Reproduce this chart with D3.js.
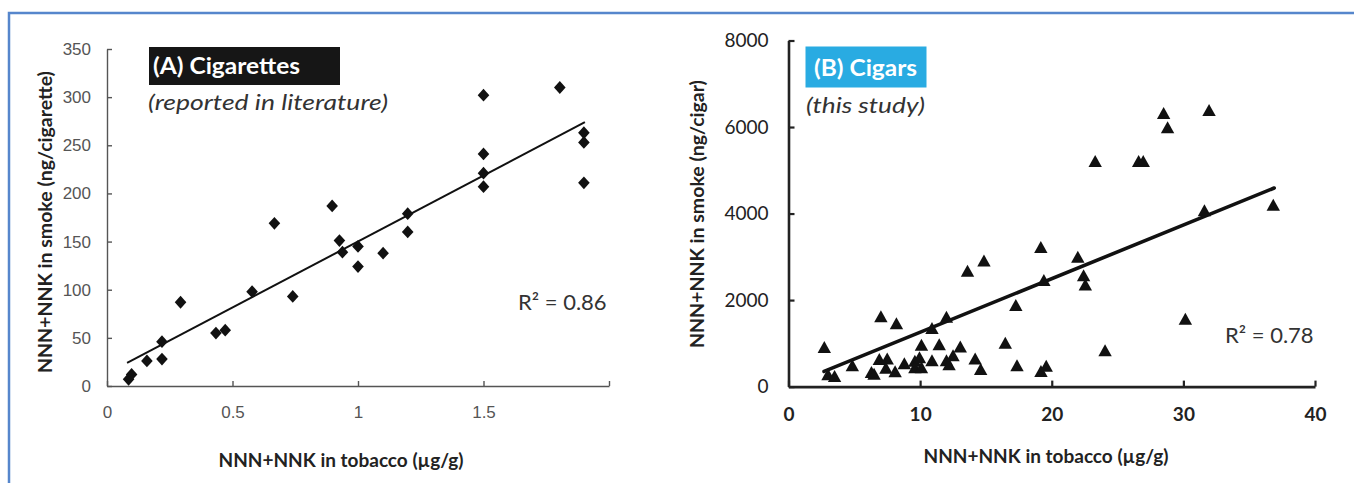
<!DOCTYPE html>
<html>
<head>
<meta charset="utf-8">
<script src="https://cdn.jsdelivr.net/npm/d3@7"></script>
<style>
  body { margin: 0; background: #fff; }
  svg { display: block; }
</style>
</head>
<body>
<svg id="chart" width="1354" height="483"></svg>
<script>
// (A) Cigarettes: NNN+NNK in tobacco (µg/g) vs. in mainstream smoke (ng/cigarette)
const cigaretteTobacco = [0.086, 0.098, 0.159, 0.219, 0.219, 0.293, 0.434, 0.471, 0.578, 0.667,
  0.74, 0.897, 0.926, 0.938, 1.0, 1.0, 1.1, 1.198, 1.198, 1.5, 1.5, 1.5, 1.5, 1.804, 1.9, 1.9, 1.9];
const cigaretteSmoke = [7, 12, 26, 46, 28, 87, 55, 58, 98, 169,
  93, 187, 151, 139, 145, 124, 138, 179, 160, 302, 241, 221, 207, 310, 263, 253, 211];
const cigaretteTrend = [[0.08, 24], [1.904, 274]];
const cigaretteXTicks = [0, 0.5, 1, 1.5, 2];
const cigaretteYTicks = [0, 50, 100, 150, 200, 250, 300, 350];

// (B) Cigars: NNN+NNK in tobacco (µg/g) vs. in mainstream smoke (ng/cigar)
const cigarTobacco = [2.72, 3.0, 3.5, 4.85, 6.3, 6.5, 7.02, 6.9, 7.5, 7.4,
  8.2, 8.1, 8.8, 9.6, 9.95, 9.6, 10.1, 10.1, 10.9, 10.9,
  11.45, 12.0, 12.0, 12.2, 12.5, 13.05, 13.6, 14.18, 14.6, 14.85,
  16.47, 17.27, 17.36, 19.17, 19.4, 19.18, 19.58, 21.98, 22.42, 22.55,
  23.3, 24.05, 26.6, 26.95, 28.5, 28.8, 30.15, 31.6, 31.95, 36.83];
const cigarSmoke = [880, 250, 210, 455, 300, 260, 1590, 600, 610, 400,
  1430, 320, 500, 560, 640, 410, 410, 930, 1320, 570,
  940, 1580, 570, 480, 690, 890, 2640, 610, 370, 2880,
  975, 1850, 455, 3190, 2425, 323, 447, 2965, 2535, 2325,
  5175, 805, 5175, 5175, 6290, 5960, 1530, 4040, 6355, 4167];
const cigarTrend = [[2.7, 350], [36.9, 4590]];
const cigarXTicks = [0, 10, 20, 30, 40];
const cigarYTicks = [0, 2000, 4000, 6000, 8000];

const svg = d3.select("#chart");
const LATO = "Lato, 'Open Sans', sans-serif";
const plain = d3.format("");

// Page frame (top rule and left rule)
svg.append("path")
  .attr("d", "M9,483 V13 H1354")
  .attr("fill", "none")
  .attr("stroke", "#5686cc")
  .attr("stroke-width", 2.5);

// ---------- Panel A ----------
const xA = d3.scaleLinear().domain([0, 2]).range([107, 609]);
const yA = d3.scaleLinear().domain([0, 350]).range([386, 49]);
const gA = svg.append("g");

const axAx = gA.append("g")
  .attr("transform", `translate(0,${yA(0)})`)
  .call(d3.axisBottom(xA).tickValues(cigaretteXTicks)
    .tickFormat(d => d === 2 ? "" : plain(d))
    .tickSizeInner(-5).tickSizeOuter(0).tickPadding(20));
const axAy = gA.append("g")
  .attr("transform", `translate(${xA(0)},0)`)
  .call(d3.axisLeft(yA).tickValues(cigaretteYTicks)
    .tickFormat(plain)
    .tickSizeInner(-5).tickSizeOuter(0).tickPadding(16));
[axAx, axAy].forEach(a => {
  a.select(".domain").attr("stroke", "#555").attr("stroke-width", 1.4);
  a.selectAll(".tick line").attr("stroke", "#555").attr("stroke-width", 1.4);
  a.selectAll(".tick text")
    .attr("fill", "#555")
    .style("font-family", "'Liberation Sans', Arial, sans-serif")
    .style("font-size", "17px");
});

gA.append("path")
  .attr("d", d3.line().x(d => xA(d[0])).y(d => yA(d[1]))(cigaretteTrend))
  .attr("fill", "none").attr("stroke", "#111").attr("stroke-width", 2);

const diamond = "M0,-6.4 L5.8,0 L0,6.4 L-5.8,0 Z";
gA.append("g").selectAll("path")
  .data(cigaretteTobacco.map((x, i) => [x, cigaretteSmoke[i]]))
  .join("path")
  .attr("d", diamond)
  .attr("transform", d => `translate(${xA(d[0])},${yA(d[1])})`)
  .attr("fill", "#111");

gA.append("rect")
  .attr("x", 149).attr("y", 47).attr("width", 191).attr("height", 38)
  .attr("fill", "#161616");
gA.append("text")
  .attr("x", 153).attr("y", 74)
  .attr("textLength", 147).attr("lengthAdjust", "spacingAndGlyphs")
  .style("font-family", LATO).style("font-weight", "bold").style("font-size", "22px")
  .attr("fill", "#fff").text("(A) Cigarettes");
gA.append("text")
  .attr("x", 148).attr("y", 110)
  .attr("textLength", 240).attr("lengthAdjust", "spacingAndGlyphs")
  .style("font-family", LATO).style("font-style", "italic").style("font-size", "22px")
  .attr("fill", "#333").text("(reported in literature)");
gA.append("text")
  .attr("x", 518).attr("y", 310)
  .style("font-family", LATO).style("font-size", "22px")
  .attr("fill", "#333").text("R² = 0.86");

gA.append("text")
  .attr("transform", "translate(45,222) rotate(-90)")
  .attr("text-anchor", "middle").attr("dy", "0.35em")
  .style("font-family", LATO).style("font-weight", "bold").style("font-size", "19.5px")
  .attr("fill", "#222").text("NNN+NNK in smoke (ng/cigarette)");
gA.append("text")
  .attr("x", 341).attr("y", 467).attr("text-anchor", "middle")
  .style("font-family", LATO).style("font-weight", "bold").style("font-size", "19px")
  .attr("fill", "#222").text("NNN+NNK in tobacco (µg/g)");

// ---------- Panel B ----------
const xB = d3.scaleLinear().domain([0, 40]).range([788.5, 1315]);
const yB = d3.scaleLinear().domain([0, 8000]).range([386.6, 40.5]);
const gB = svg.append("g");

const axBx = gB.append("g")
  .attr("transform", `translate(0,${yB(0)})`)
  .call(d3.axisBottom(xB).tickValues(cigarXTicks)
    .tickFormat(plain)
    .tickSizeInner(-6).tickSizeOuter(0).tickPadding(21));
const axBy = gB.append("g")
  .attr("transform", `translate(${xB(0)},0)`)
  .call(d3.axisLeft(yB).tickValues(cigarYTicks)
    .tickFormat(plain)
    .tickSizeInner(-6).tickSizeOuter(0).tickPadding(20));
[axBx, axBy].forEach(a => {
  a.select(".domain").attr("stroke", "#222").attr("stroke-width", 2.6);
  a.selectAll(".tick line").attr("stroke", "#222").attr("stroke-width", 2.2);
  a.selectAll(".tick text")
    .attr("fill", "#222")
    .style("font-family", LATO)
    .style("font-size", "19px");
});
axBx.selectAll(".tick text").style("font-weight", "bold");

gB.append("path")
  .attr("d", d3.line().x(d => xB(d[0])).y(d => yB(d[1]))(cigarTrend))
  .attr("fill", "none").attr("stroke", "#111").attr("stroke-width", 3.6)
  .attr("stroke-linecap", "round");

const triangle = "M0,-7.6 L6.7,4.4 L-6.7,4.4 Z";
gB.append("g").selectAll("path")
  .data(cigarTobacco.map((x, i) => [x, cigarSmoke[i]]))
  .join("path")
  .attr("d", triangle)
  .attr("transform", d => `translate(${xB(d[0])},${yB(d[1])})`)
  .attr("fill", "#111");

gB.append("rect")
  .attr("x", 805.5).attr("y", 46.5).attr("width", 121).attr("height", 41)
  .attr("fill", "#29abe2");
gB.append("text")
  .attr("x", 814).attr("y", 76)
  .attr("textLength", 103).attr("lengthAdjust", "spacingAndGlyphs")
  .style("font-family", LATO).style("font-weight", "bold").style("font-size", "22px")
  .attr("fill", "#fff").text("(B) Cigars");
gB.append("text")
  .attr("x", 806).attr("y", 113)
  .attr("textLength", 119).attr("lengthAdjust", "spacingAndGlyphs")
  .style("font-family", LATO).style("font-style", "italic").style("font-size", "22px")
  .attr("fill", "#333").text("(this study)");
gB.append("text")
  .attr("x", 1225).attr("y", 343)
  .style("font-family", LATO).style("font-size", "22px")
  .attr("fill", "#333").text("R² = 0.78");

gB.append("text")
  .attr("transform", "translate(697.5,214) rotate(-90)")
  .attr("text-anchor", "middle").attr("dy", "0.35em")
  .style("font-family", LATO).style("font-weight", "bold").style("font-size", "19.5px")
  .attr("fill", "#222").text("NNN+NNK in smoke (ng/cigar)");
gB.append("text")
  .attr("x", 1046).attr("y", 463).attr("text-anchor", "middle")
  .style("font-family", LATO).style("font-weight", "bold").style("font-size", "19px")
  .attr("fill", "#222").text("NNN+NNK in tobacco (µg/g)");
</script>
</body>
</html>
